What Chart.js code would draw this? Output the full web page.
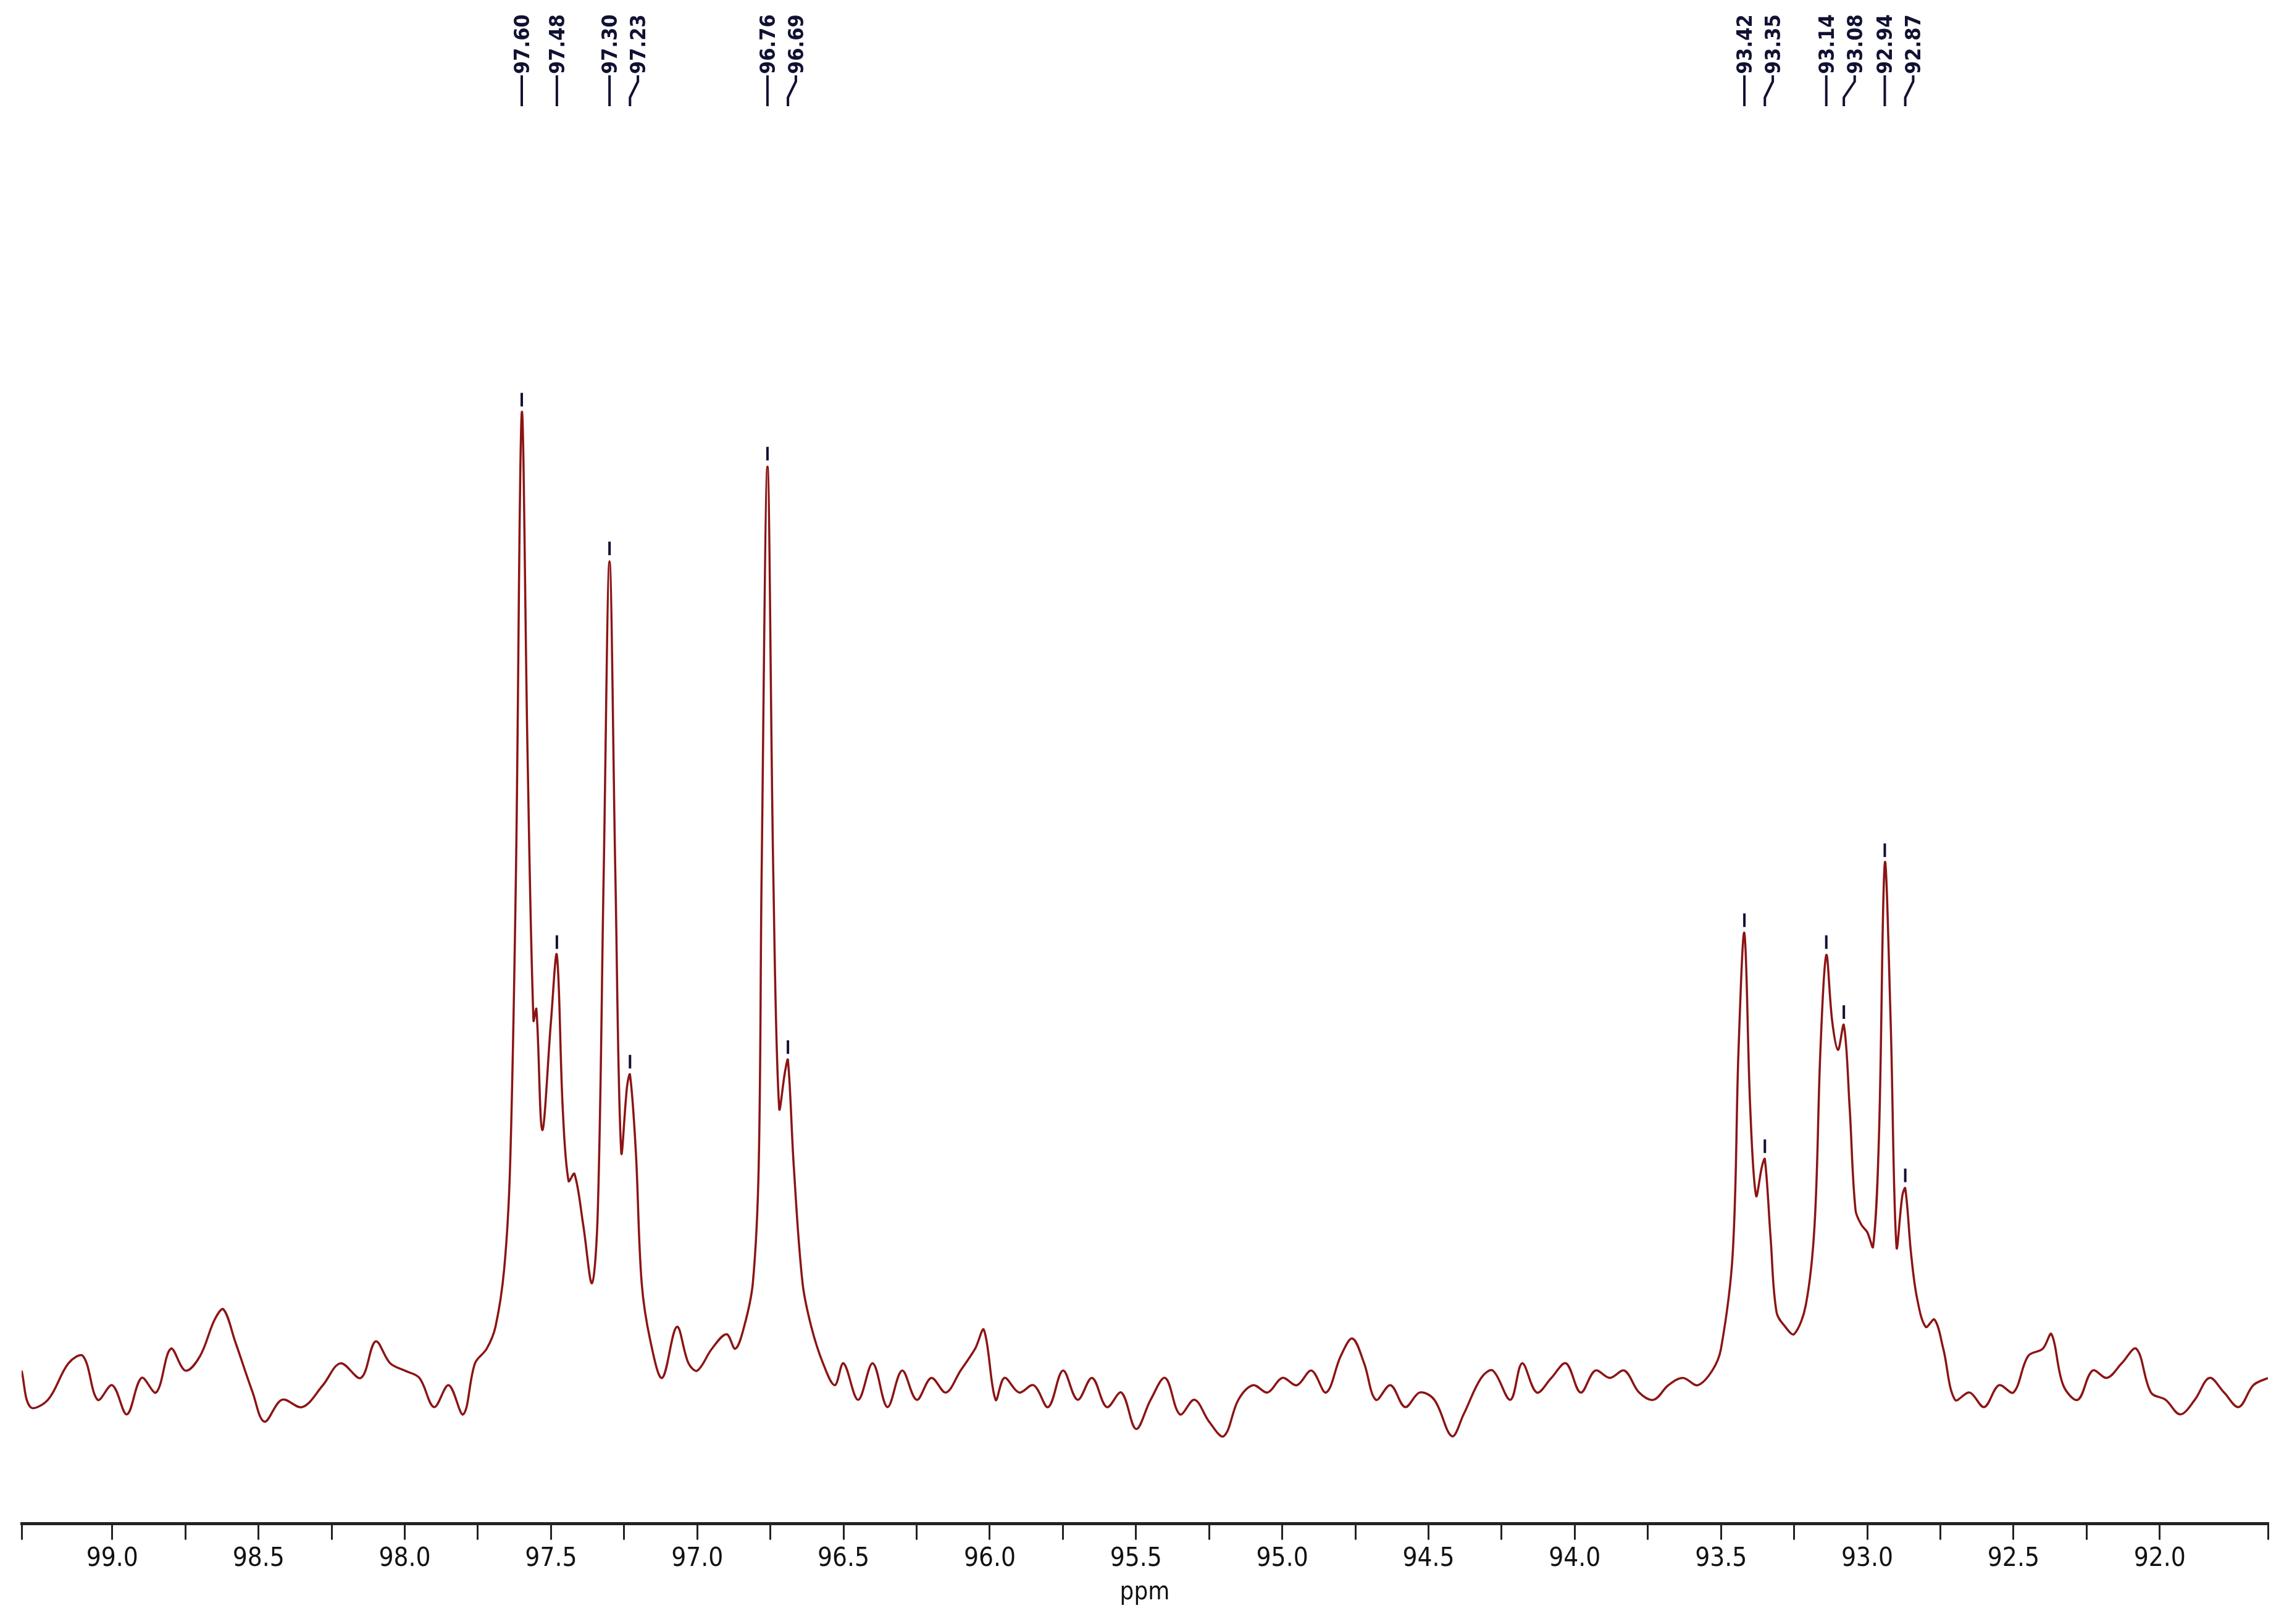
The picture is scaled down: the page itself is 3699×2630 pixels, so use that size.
<!DOCTYPE html>
<html>
<head>
<meta charset="utf-8">
<script src="https://cdn.jsdelivr.net/npm/chart.js@4.4.1/dist/chart.umd.min.js"></script>
<style>
  html, body { margin: 0; padding: 0; background: #fff; }
  #wrap { width: 3699px; height: 2630px; }
</style>
</head>
<body>
<div id="wrap"><canvas id="nmr"></canvas></div>
<script>
// Chemical shift (ppm) and intensity (arbitrary units)
const shifts = [
  99.31, 99.28, 99.22, 99.15, 99.10, 99.05, 99.00, 98.95, 98.90, 98.85,
  98.80, 98.75, 98.70, 98.65, 98.62, 98.58, 98.52, 98.48, 98.42, 98.35,
  98.28, 98.22, 98.15, 98.10, 98.05, 98.00, 97.95, 97.90, 97.85, 97.80,
  97.76, 97.72, 97.69, 97.66, 97.64, 97.62, 97.60, 97.58, 97.56, 97.55,
  97.53, 97.50, 97.48, 97.46, 97.44, 97.42, 97.39, 97.36, 97.34, 97.32,
  97.30, 97.28, 97.26, 97.24, 97.23, 97.21, 97.19, 97.16, 97.12, 97.07,
  97.03, 97.00, 96.95, 96.90, 96.87, 96.84, 96.81, 96.79, 96.78, 96.76,
  96.74, 96.72, 96.70, 96.69, 96.67, 96.64, 96.61, 96.57, 96.53, 96.50,
  96.45, 96.40, 96.35, 96.30, 96.25, 96.20, 96.15, 96.10, 96.05, 96.02,
  95.98, 95.95, 95.90, 95.85, 95.80, 95.75, 95.70, 95.65, 95.60, 95.55,
  95.50, 95.45, 95.40, 95.35, 95.30, 95.25, 95.20, 95.15, 95.10, 95.05,
  95.00, 94.95, 94.90, 94.85, 94.80, 94.76, 94.72, 94.68, 94.63, 94.58,
  94.53, 94.48, 94.42, 94.38, 94.32, 94.28, 94.22, 94.18, 94.13, 94.08,
  94.03, 93.98, 93.93, 93.88, 93.83, 93.78, 93.73, 93.68, 93.63, 93.58,
  93.53, 93.50, 93.46, 93.44, 93.42, 93.40, 93.38, 93.36, 93.35, 93.33,
  93.31, 93.28, 93.25, 93.21, 93.18, 93.16, 93.14, 93.12, 93.10, 93.08,
  93.06, 93.04, 93.02, 93.00, 92.98, 92.96, 92.94, 92.92, 92.90, 92.88,
  92.87, 92.85, 92.83, 92.80, 92.77, 92.74, 92.70, 92.65, 92.60, 92.55,
  92.50, 92.45, 92.40, 92.37, 92.33, 92.28, 92.23, 92.18, 92.13, 92.08,
  92.03, 91.98, 91.93, 91.88, 91.83, 91.78, 91.73, 91.68, 91.63
];
const intensity = [
  105,  80,  85, 110, 115,  85,  95,  75, 100,  90,
  120, 105, 115, 140, 147, 125,  90,  70,  85,  80,
   95, 110, 100, 125, 110, 105, 100,  80,  95,  75,
  110, 120, 135, 175, 245, 445, 762, 525, 345, 353,
  270, 345, 390, 285, 235, 240, 205, 165, 215, 445,
  660, 445, 255, 300, 308, 255, 165, 125, 100, 135,
  110, 105, 120, 130, 120, 135, 165, 245, 445, 725,
  445, 285, 310, 318, 245, 165, 135, 110,  95, 110,
   85, 110,  80, 105,  85, 100,  90, 105, 120, 133,
   85, 100,  90,  95,  80, 105,  85, 100,  80,  90,
   65,  85, 100,  75,  85,  70,  60,  85,  95,  90,
  100,  95, 105,  90, 115, 127, 110,  85,  95,  80,
   90,  85,  60,  75, 100, 105,  85, 110,  90, 100,
  110,  90, 105, 100, 105,  90,  85,  95, 100,  95,
  105, 120, 185, 325, 405, 285, 225, 245, 250, 195,
  145, 135, 130, 150, 205, 325, 390, 345, 325, 342,
  285, 215, 205, 200, 190, 265, 453, 345, 190, 225,
  230, 185, 155, 135, 140, 120,  85,  90,  80,  95,
   90, 115, 120, 130,  95,  85, 105, 100, 110, 120,
   90,  85,  75,  85, 100,  90,  80,  95, 100
];
// Picked peak labels
const peakLabels = [97.60, 97.48, 97.30, 97.23, 96.76, 96.69, 93.42, 93.35, 93.14, 93.08, 92.94, 92.87];

const FONT = '"DejaVu Sans Condensed", "DejaVu Sans", sans-serif';

// Draws the rotated peak labels with leader lines at the top
const peakLabelPlugin = {
  id: 'peakLabels',
  afterDraw(chart) {
    const ctx = chart.ctx;
    const xs = chart.scales.x;
    const ys = chart.scales.y;
    const gap = 46;
    const px = peakLabels.map(v => xs.getPixelForValue(v));
    // spread label positions so they don't overlap
    const lx = px.slice();
    for (let i = 1; i < lx.length; i++) {
      if (lx[i] - lx[i - 1] < gap) lx[i] = lx[i - 1] + gap;
    }
    ctx.save();
    ctx.strokeStyle = '#111133';
    ctx.lineWidth = 4;
    ctx.font = 'bold 34px ' + FONT;
    ctx.fillStyle = '#111133';
    peakLabels.forEach((v, i) => {
      ctx.beginPath();
      ctx.moveTo(lx[i], 122);
      ctx.lineTo(lx[i], 132);
      ctx.lineTo(px[i], 158);
      ctx.lineTo(px[i], 172);
      ctx.stroke();
      ctx.save();
      ctx.translate(lx[i] + 12, 120);
      ctx.rotate(-Math.PI / 2);
      ctx.textAlign = 'left';
      ctx.fillText(v.toFixed(2), 0, 0);
      ctx.restore();
      // small mark above peak top
      const idx = shifts.indexOf(v);
      if (idx >= 0) {
        const py = ys.getPixelForValue(intensity[idx]);
        ctx.beginPath();
        ctx.moveTo(px[i], py - 10);
        ctx.lineTo(px[i], py - 32);
        ctx.stroke();
      }
    });
    ctx.restore();
  }
};

new Chart(document.getElementById('nmr'), {
  type: 'line',
  data: {
    datasets: [{
      data: shifts.map((s, i) => ({ x: s, y: intensity[i] })),
      borderColor: '#8c1414',
      borderWidth: 3.5,
      pointRadius: 0,
      tension: 0.35,
      fill: false
    }]
  },
  options: {
    responsive: true,
    maintainAspectRatio: false,
    animation: false,
    layout: { padding: { left: 35, right: 26, top: 0, bottom: 22 } },
    plugins: { legend: { display: false }, tooltip: { enabled: false } },
    scales: {
      x: {
        type: 'linear',
        reverse: true,
        min: 91.63,
        max: 99.31,
        border: { display: true, color: '#222', width: 5 },
        grid: { display: true, drawOnChartArea: false, drawTicks: true, tickLength: 26, color: '#222', lineWidth: 3 },
        ticks: {
          stepSize: 0.25,
          autoSkip: false,
          maxRotation: 0,
          color: '#111',
          font: { family: FONT, size: 42 },
          padding: 6,
          callback: v => (Math.round(v * 4) % 2 === 0 ? v.toFixed(1) : '')
        },
        title: { display: true, text: 'ppm', color: '#111', font: { family: FONT, size: 40 }, padding: { top: 0 } }
      },
      y: {
        display: false,
        min: 0,
        max: 1045
      }
    }
  },
  plugins: [peakLabelPlugin]
});
</script>
</body>
</html>
